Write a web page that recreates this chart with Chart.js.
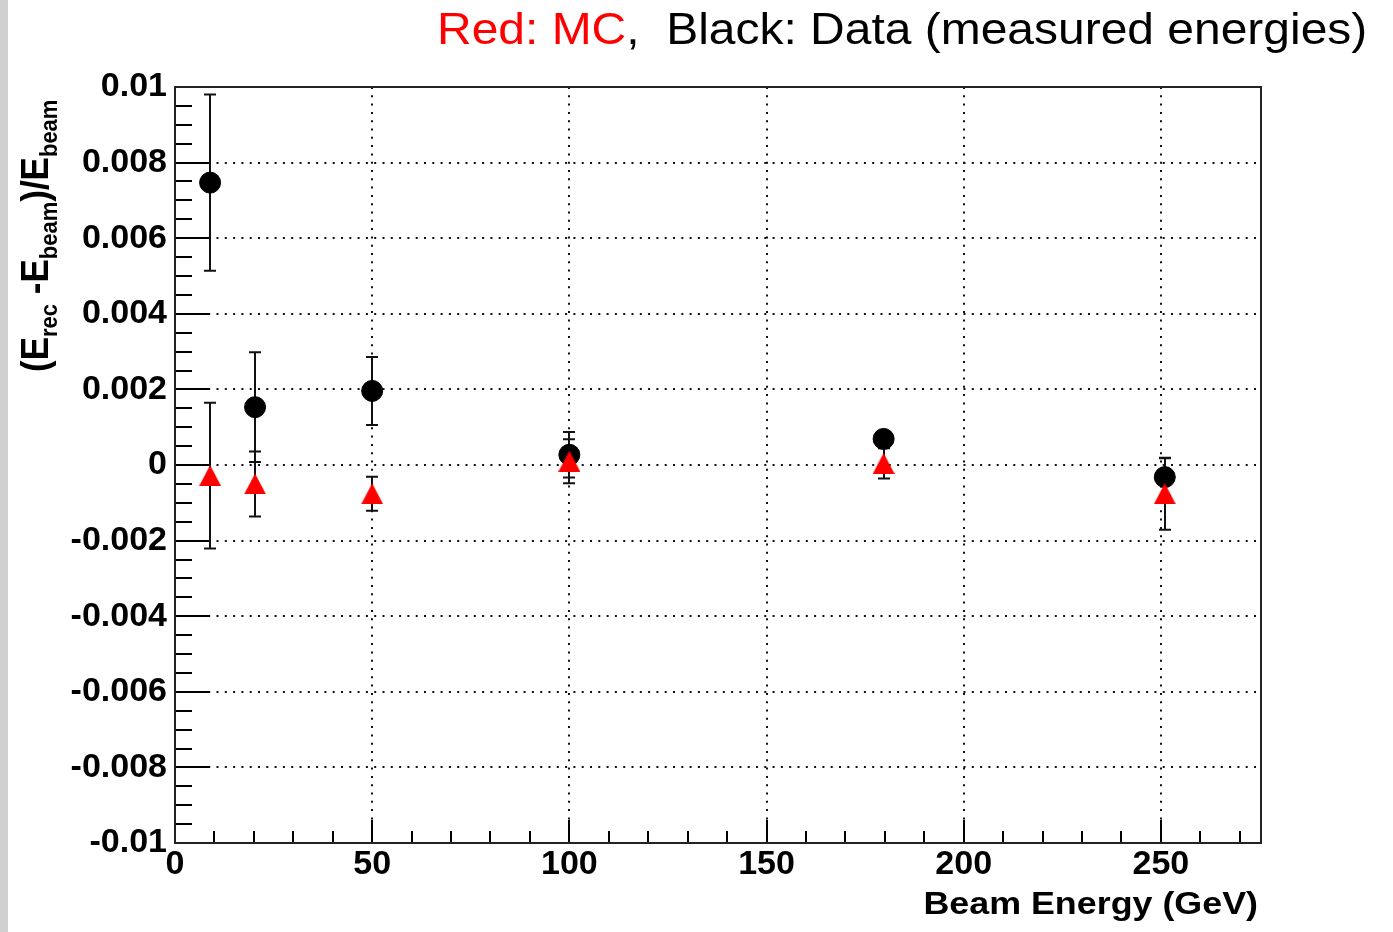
<!DOCTYPE html>
<html>
<head>
<meta charset="utf-8">
<script src="https://cdn.jsdelivr.net/npm/chart.js@4.4.1/dist/chart.umd.min.js"></script>
<style>
  html, body { margin: 0; padding: 0; background: #fff; }
  #wrap { width: 1393px; height: 932px; }
</style>
</head>
<body>
<div id="wrap"><canvas id="chart" width="1393" height="932"></canvas></div>
<script>
// measured beam energies (GeV)
const mcEnergy = [8.9, 20.3, 50, 100, 179.7, 251];
const mcResp = [-0.00028, -0.0005, -0.00076, 0.0001, 0.00004, -0.00076];
const mcErr = [0.00193, 0.00086, 0.00045, 0.00058, 0.0004, 0.00095];

const dataEnergy = [8.9, 20.3, 50, 100, 179.7, 251];
const dataResp = [0.00747, 0.00153, 0.00196, 0.00027, 0.00069, -0.00032];
const dataErr = [0.00233, 0.00145, 0.0009, 0.0006, 0.0002, 0.0005];

const xTicks = [0, 50, 100, 150, 200, 250];
const yTicks = [-0.01, -0.008, -0.006, -0.004, -0.002, 0, 0.002, 0.004, 0.006, 0.008, 0.01];
const xMinorStep = 10;
const yMinorStep = 0.0005;

const FONT = "'Liberation Sans', Arial, Helvetica, sans-serif";

// ROOT-like full triangle, centred on its bounding box
function triangleMarker(w, h, color) {
  const c = document.createElement('canvas');
  c.width = w; c.height = h;
  const g = c.getContext('2d');
  g.fillStyle = color;
  g.beginPath();
  g.moveTo(w / 2, 0);
  g.lineTo(w, h);
  g.lineTo(0, h);
  g.closePath();
  g.fill();
  return c;
}

function toPoints(xs, ys) {
  return xs.map((x, i) => ({ x: x, y: ys[i] }));
}

// background, grid, frame and inward ticks
const rootFrame = {
  id: 'rootFrame',
  beforeDraw(chart) {
    const ctx = chart.ctx;
    ctx.save();
    ctx.fillStyle = '#fff';
    ctx.fillRect(0, 0, chart.width, chart.height);
    ctx.fillStyle = '#d0d0d0';
    ctx.fillRect(0, 0, 8, chart.height);
    ctx.restore();
  },
  beforeDatasetsDraw(chart) {
    const { ctx, chartArea: a, scales: { x, y } } = chart;
    ctx.save();
    // dotted grid
    ctx.strokeStyle = '#111';
    ctx.lineWidth = 2;
    ctx.setLineDash([2, 6.3]);
    xTicks.forEach(v => {
      if (v <= x.min || v >= x.max) return;
      const px = Math.round(x.getPixelForValue(v));
      ctx.beginPath(); ctx.moveTo(px, a.top); ctx.lineTo(px, a.bottom); ctx.stroke();
    });
    yTicks.forEach(v => {
      if (v <= y.min || v >= y.max) return;
      const py = Math.round(y.getPixelForValue(v));
      ctx.beginPath(); ctx.moveTo(a.left, py); ctx.lineTo(a.right, py); ctx.stroke();
    });
    ctx.setLineDash([]);

    // tick marks pointing into the frame
    ctx.strokeStyle = '#000';
    ctx.lineWidth = 2;
    for (let v = x.min; v <= x.max + 1e-9; v += xMinorStep) {
      const px = Math.round(x.getPixelForValue(v));
      const len = (Math.round(v) % 50 === 0) ? 23 : 12;
      ctx.beginPath(); ctx.moveTo(px, a.bottom); ctx.lineTo(px, a.bottom - len); ctx.stroke();
    }
    const nY = Math.round((y.max - y.min) / yMinorStep);
    for (let i = 0; i <= nY; i++) {
      const v = y.min + i * yMinorStep;
      const py = Math.round(y.getPixelForValue(v));
      const len = (i % 4 === 0) ? 35 : 17;
      ctx.beginPath(); ctx.moveTo(a.left, py); ctx.lineTo(a.left + len, py); ctx.stroke();
    }

    // frame
    ctx.strokeStyle = '#222';
    ctx.lineWidth = 2;
    ctx.strokeRect(a.left, a.top, a.right - a.left, a.bottom - a.top);

    // error bars (drawn below the markers)
    chart.data.datasets.forEach(ds => {
      ctx.strokeStyle = '#111';
      ctx.lineWidth = 2;
      ds.data.forEach((p, i) => {
        const e = ds.errors[i];
        const px = Math.round(x.getPixelForValue(p.x));
        const top = y.getPixelForValue(p.y + e);
        const bot = y.getPixelForValue(p.y - e);
        ctx.beginPath();
        ctx.moveTo(px, top); ctx.lineTo(px, bot);
        ctx.moveTo(px - 6, top); ctx.lineTo(px + 6, top);
        ctx.moveTo(px - 6, bot); ctx.lineTo(px + 6, bot);
        ctx.stroke();
      });
    });
    ctx.restore();
  },
  afterDraw(chart) {
    const ctx = chart.ctx;
    ctx.save();
    ctx.textBaseline = 'alphabetic';

    // header
    ctx.save();
    ctx.translate(437, 44);
    ctx.scale(1.09, 1);
    ctx.font = '44px ' + FONT;
    let tx = 0;
    ctx.fillStyle = '#ff0000';
    ctx.fillText('Red: MC', tx, 0);
    tx += ctx.measureText('Red: MC').width;
    ctx.fillStyle = '#000';
    ctx.fillText(',  Black: Data (measured energies)', tx, 0);
    ctx.restore();

    // x title, right aligned to the frame
    ctx.save();
    ctx.translate(1258, 914);
    ctx.scale(1.12, 1);
    ctx.font = 'bold 32px ' + FONT;
    ctx.textAlign = 'right';
    ctx.fillStyle = '#000';
    ctx.fillText('Beam Energy (GeV)', 0, 0);
    ctx.restore();

    // y title with subscripts
    ctx.save();
    ctx.translate(48, 372);
    ctx.rotate(-Math.PI / 2);
    ctx.scale(1, 1.12);
    ctx.fillStyle = '#000';
    const parts = [
      ['(E', false], ['rec', true], [' -E', false], ['beam', true], [')/E', false], ['beam', true]
    ];
    let px = 0;
    parts.forEach(([t, sub]) => {
      ctx.font = sub ? 'bold 22px ' + FONT : 'bold 35px ' + FONT;
      ctx.fillText(t, px, sub ? 8 : 0);
      px += ctx.measureText(t).width;
    });
    ctx.restore();

    ctx.restore();
  }
};

const tickFont = { family: FONT, weight: 'bold', size: 34 };

new Chart(document.getElementById('chart'), {
  type: 'scatter',
  data: {
    datasets: [
      {
        label: 'MC',
        data: toPoints(mcEnergy, mcResp),
        errors: mcErr,
        pointStyle: triangleMarker(22, 21, '#ff0000'),
        order: 0
      },
      {
        label: 'Data',
        data: toPoints(dataEnergy, dataResp),
        errors: dataErr,
        pointStyle: 'circle',
        pointRadius: 10.5,
        pointBackgroundColor: '#000',
        pointBorderColor: '#000',
        pointBorderWidth: 1,
        order: 1
      }
    ]
  },
  options: {
    responsive: false,
    animation: false,
    devicePixelRatio: 1,
    events: [],
    layout: { padding: { top: 87, right: 132, left: 0, bottom: 0 } },
    plugins: {
      legend: { display: false },
      tooltip: { enabled: false },
      title: { display: false }
    },
    scales: {
      x: {
        type: 'linear',
        min: 0,
        max: 275.4,
        grid: { display: false, drawTicks: false },
        border: { display: false },
        afterBuildTicks: s => { s.ticks = xTicks.map(v => ({ value: v })); },
        afterFit: s => { s.height = 89; },
        ticks: {
          font: tickFont, color: '#000', padding: 1,
          maxRotation: 0, autoSkip: false,
          callback: v => String(v)
        }
      },
      y: {
        type: 'linear',
        min: -0.01,
        max: 0.01,
        grid: { display: false, drawTicks: false },
        border: { display: false },
        afterBuildTicks: s => { s.ticks = yTicks.map(v => ({ value: v })); },
        afterFit: s => { s.width = 175; },
        ticks: {
          font: tickFont, color: '#000', padding: 8,
          autoSkip: false,
          callback: v => String(v)
        }
      }
    }
  },
  plugins: [rootFrame]
});
</script>
</body>
</html>
